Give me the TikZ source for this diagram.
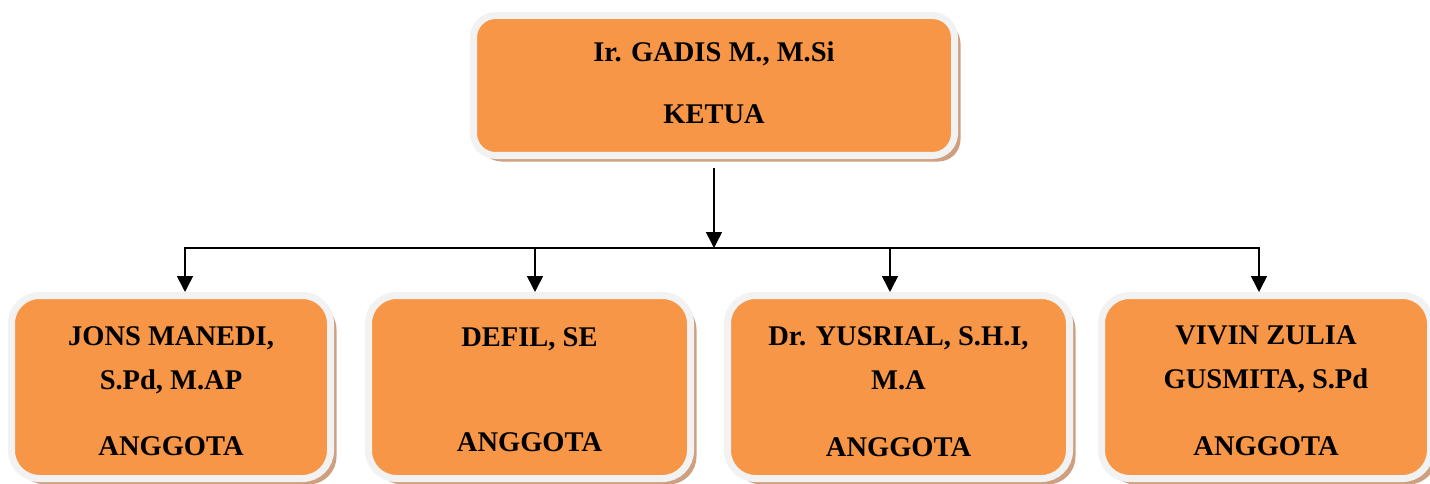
\documentclass[tikz,border=0pt]{standalone}
\usepackage{fontspec}
\setmainfont{Liberation Serif}
\usetikzlibrary{arrows.meta, positioning, shadows}
\definecolor{boxorange}{HTML}{F79646}
\definecolor{boxrim}{HTML}{F2F2F2}
\definecolor{boxshade}{RGB}{206,160,128}

\begin{document}
\begin{tikzpicture}[x=1pt, y=1pt, >={Triangle[width=16pt,length=16pt]}, line width=1.6pt,
  orgbox/.style={draw=boxrim, line width=7pt, fill=boxorange, minimum height=183pt, rounded corners=28pt,
    drop shadow={shadow xshift=6pt, shadow yshift=-6pt, fill=boxshade, draw=none, opacity=1}},
  nametext/.style={font=\fontsize{28.5}{44}\selectfont\bfseries, align=center, inner sep=0pt},
  roletext/.style={font=\fontsize{28.5}{34}\selectfont\bfseries, inner sep=0pt}]
\useasboundingbox (0,0) rectangle (1430,483);

% Nodes
\node[orgbox, minimum width=481pt, minimum height=140pt, rounded corners=22pt] (chair) at (714,397.5) {};
\node[orgbox, minimum width=319pt] (m1) at (171,96) {};
\node[orgbox, minimum width=322pt] (m2) at (529.5,96) {};
\node[orgbox, minimum width=342pt] (m3) at (898.5,96) {};
\node[orgbox, minimum width=329pt] (m4) at (1266,96) {};

% Texts
\node[nametext, below=29pt of chair.north] (chairname) {Ir. GADIS M., M.Si};
\node[roletext, above=34pt of chair.south] (chairrole) {KETUA};
\node[nametext, below=34pt of m1.north] (name1) {JONS MANEDI,\\S.Pd, M.AP};
\node[roletext, above=25pt of m1.south] (role1) {ANGGOTA};
\node[nametext, below=35pt of m2.north] (name2) {DEFIL, SE};
\node[roletext, above=29pt of m2.south] (role2) {ANGGOTA};
\node[nametext, below=34pt of m3.north] (name3) {Dr. YUSRIAL, S.H.I,\\M.A};
\node[roletext, above=24pt of m3.south] (role3) {ANGGOTA};
\node[nametext, below=33pt of m4.north] (name4) {VIVIN ZULIA\\GUSMITA, S.Pd};
\node[roletext, above=25pt of m4.south] (role4) {ANGGOTA};

% Arrows
\coordinate (hub) at (714,235);
\coordinate (d1) at (185,235);
\coordinate (d2) at (535,235);
\coordinate (d3) at (890,235);
\coordinate (d4) at (1259,235);
\draw[->, shorten <=9pt] (chair.south) -- (hub);
\draw[line cap=rect] (d1) -- (d4);
\foreach \i in {1,...,4}
  \draw[->] (d\i) -- (d\i |- m\i.north);
\end{tikzpicture}
\end{document}
